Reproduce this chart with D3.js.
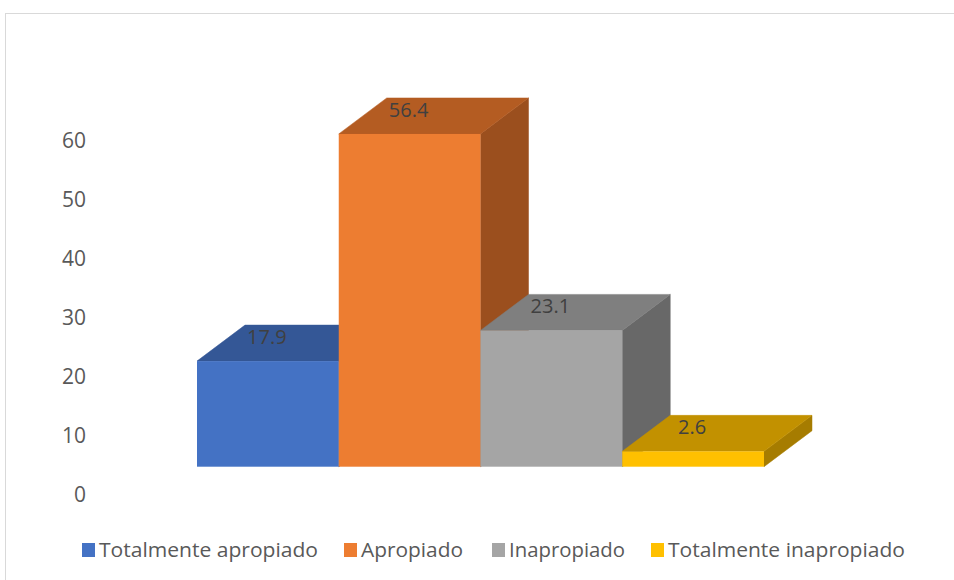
<!DOCTYPE html>
<html>
    <head>
        <meta charset="utf-8" />
        <title>3D column chart</title>
        <script src="https://d3js.org/d3.v7.min.js"></script>
        <style>
            body {
                margin: 0px;
                background: white;
            }
            text {
                font-family: "Open Sans", "Liberation Sans", sans-serif;
            }
        </style>
    </head>
    <body>
        <svg id="chart"></svg>
        <script>

        var categories = ["Totalmente apropiado", "Apropiado", "Inapropiado", "Totalmente inapropiado"];
        var values = [17.9, 56.4, 23.1, 2.6];
        var tickValues = [0, 10, 20, 30, 40, 50, 60];
        var labelWidths = [219, 102, 116, 237];

        var colors = {
            front: ["#4472C4", "#ED7D31", "#A5A5A5", "#FFC000"],
            top: ["#345796", "#B45C22", "#7F7F7F", "#C29100"],
            side: ["#2A477A", "#9B4F1E", "#686868", "#A67C00"]
        };

        var width = 954;
        var height = 580;
        var depth = { dx: 48, dy: -36 };

        var svg = d3.select("#chart")
            .attr("width", width)
            .attr("height", height);

        // chart frame
        svg.append("rect")
            .attr("x", 5.5)
            .attr("y", 13.5)
            .attr("width", 980)
            .attr("height", 600)
            .attr("fill", "white")
            .attr("stroke", "#d9d9d9")
            .attr("stroke-width", 1);

        var x = d3.scaleBand()
            .domain(categories)
            .range([197, 764])
            .padding(0);

        // front face of the columns
        var y = d3.scaleLinear()
            .domain([0, 60])
            .range([466.7, 112.7]);

        // axis labels sit lower than the front baseline (3D projection)
        var yLabels = d3.scaleLinear()
            .domain([0, 60])
            .range([495, 141]);

        var yAxis = d3.axisLeft(yLabels)
            .tickValues(tickValues)
            .tickSize(0)
            .tickPadding(0);

        var axisG = svg.append("g")
            .attr("transform", "translate(86, 0)")
            .call(yAxis);
        axisG.select(".domain").remove();
        axisG.selectAll(".tick text")
            .attr("fill", "#595959")
            .style("font-size", "21px")
            .style("font-family", "'Open Sans', sans-serif");

        var barW = x.bandwidth();
        var bars = svg.append("g").selectAll("g")
            .data(values)
            .enter().append("g");

        function pts(arr) {
            return arr.map(function(p) { return p[0] + "," + p[1]; }).join(" ");
        }

        bars.each(function(d, i) {
            var g = d3.select(this);
            var x0 = x(categories[i]);
            var x1 = x0 + barW;
            var yt = y(d);
            var yb = y(0);

            g.append("polygon")
                .attr("points", pts([[x1, yt], [x1 + depth.dx, yt + depth.dy], [x1 + depth.dx, yb + depth.dy], [x1, yb]]))
                .attr("fill", colors.side[i])
                .attr("stroke", colors.side[i])
                .attr("stroke-width", 0.5);

            g.append("polygon")
                .attr("points", pts([[x0, yt], [x1, yt], [x1 + depth.dx, yt + depth.dy], [x0 + depth.dx, yt + depth.dy]]))
                .attr("fill", colors.top[i])
                .attr("stroke", colors.top[i])
                .attr("stroke-width", 0.5);

            g.append("rect")
                .attr("x", x0)
                .attr("y", yt)
                .attr("width", barW)
                .attr("height", yb - yt)
                .attr("fill", colors.front[i]);
        });

        // data labels
        svg.append("g").selectAll("text")
            .data(values)
            .enter().append("text")
            .attr("x", function(d, i) { return x(categories[i]) + barW / 2 - 1; })
            .attr("y", function(d) { return y(d) - 17; })
            .attr("text-anchor", "middle")
            .attr("fill", "#404040")
            .style("font-size", "20px")
            .text(function(d) { return d.toFixed(1); });

        // legend
        var legendX = [82, 344, 492, 651];
        var legend = svg.append("g").selectAll("g")
            .data(categories)
            .enter().append("g")
            .attr("transform", function(d, i) { return "translate(" + legendX[i] + ", 543)"; });

        legend.append("rect")
            .attr("width", 13)
            .attr("height", 14)
            .attr("fill", function(d, i) { return colors.front[i]; });

        legend.append("text")
            .attr("x", 17)
            .attr("y", 14)
            .attr("fill", "#595959")
            .style("font-size", "20px")
            .attr("textLength", function(d, i) { return labelWidths[i]; })
            .attr("lengthAdjust", "spacingAndGlyphs")
            .text(function(d) { return d; });

        </script>
    </body>
</html>
